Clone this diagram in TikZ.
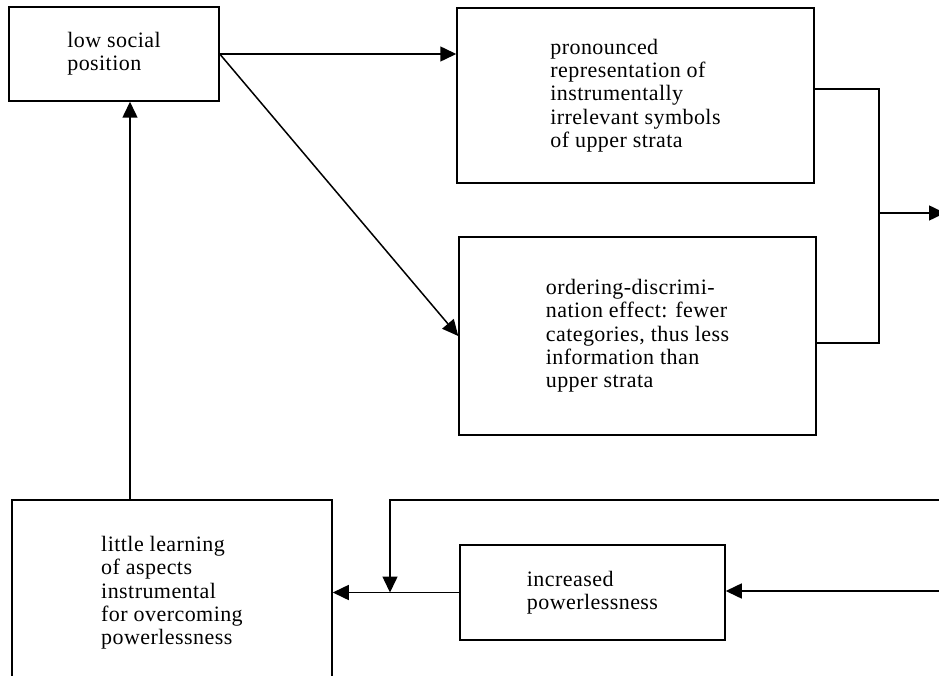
\documentclass[tikz,border=0pt]{standalone}
\usepackage{fontspec}
\setmainfont[LetterSpace=2.0]{Liberation Serif}
\usetikzlibrary{arrows.meta}
\tikzset{
  boxnode/.style={draw, line width=1.5pt, align=left, inner sep=0pt,
    font=\fontsize{22}{23.3}\selectfont},
  link/.style={line width=1.5pt},
  arr/.style={link, -{Triangle[length=16pt,width=15pt]}}
}
\begin{document}
\begin{tikzpicture}[x=1pt,y=-1pt]
\useasboundingbox (0,0) rectangle (939,676);
\clip (0,0) rectangle (939,676);
\node[boxnode, minimum width=210pt, minimum height=94pt] (A) at (114,54)
  {low social\\position};
\node[boxnode, minimum width=357pt, minimum height=175pt] (B) at (635.5,95.5)
  {pronounced\\representation of\\instrumentally\\irrelevant symbols\\of upper strata};
\node[boxnode, minimum width=357pt, minimum height=198pt] (C) at (637.5,336)
  {ordering-discrimi-\\nation effect: fewer\\categories, thus less\\information than\\upper strata};
\node[boxnode, minimum width=320pt, minimum height=186pt] (D) at (172,593)
  {little learning\\of aspects\\instrumental\\for overcoming\\powerlessness};
\node[boxnode, minimum width=265pt, minimum height=95pt] (E) at (592.5,592.5)
  {increased\\powerlessness};
\coordinate (j1) at (879,89);
\coordinate (j2) at (879,343);
\coordinate (jm) at (879,213);
\coordinate (out1) at (945,213);
\coordinate (colx) at (130,0);
\coordinate (in1) at (945,591);
\coordinate (in2) at (945,500);
\coordinate (fb) at (390,500);
\draw[arr] (A.east) -- (A.east -| B.west);
\draw[arr] (A.east) -- (C.west);
\draw[link] (B.east |- j1) -- (j1) -- (j2) -- (C.east |- j2);
\draw[arr] (jm) -- (out1);
\draw[arr] (D.north -| colx) -- (A.south -| colx);
\draw[arr] (in1) -- (in1 -| E.east);
\draw[arr] (E.west) -- (E.west -| D.east);
\draw[arr] (in2) -- (fb) -- (fb |- E.west);
\end{tikzpicture}
\end{document}
